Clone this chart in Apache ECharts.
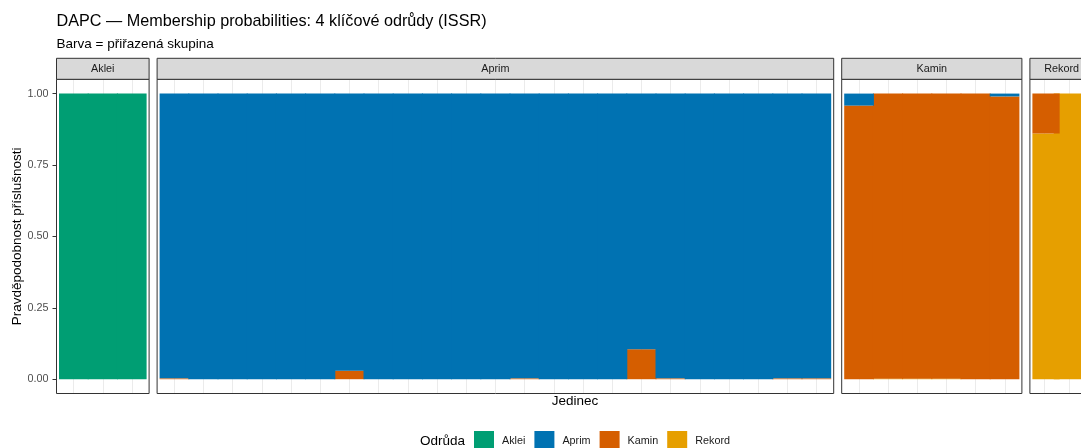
<!DOCTYPE html>
<html>
<head>
<meta charset="utf-8">
<script src="https://cdn.jsdelivr.net/npm/echarts@6/dist/echarts.min.js"></script>
<style>
  html, body { margin: 0; padding: 0; background: #ffffff; }
  #chart { width: 1081px; height: 448px; }
</style>
</head>
<body>
<div id="chart"></div>
<script>
// Assigned DAPC groups and their colours
const clusters = ['Aklei', 'Aprim', 'Kamin', 'Rekord'];
const clusterColors = ['#009E73', '#0072B2', '#D55E00', '#E69F00'];

// Facet panels = variety of each individual
const panels = ['Aklei', 'Aprim', 'Kamin', 'Rekord'];

// Membership probabilities: one array per group, one value per individual
const akleiAklei  = [1, 1, 1];
const akleiAprim  = [0, 0, 0];
const akleiKamin  = [0, 0, 0];
const akleiRekord = [0, 0, 0];

const aprimAklei  = [0, 0, 0, 0, 0, 0, 0, 0, 0, 0, 0, 0, 0, 0, 0, 0, 0, 0, 0, 0, 0, 0, 0];
const aprimAprim  = [0.997, 1, 1, 1, 1, 1, 0.97, 1, 1, 1, 1, 1, 0.997, 1, 1, 1, 0.895, 0.997, 1, 1, 1, 0.997, 0.997];
const aprimKamin  = [0.003, 0, 0, 0, 0, 0, 0.03, 0, 0, 0, 0, 0, 0.003, 0, 0, 0, 0.105, 0.003, 0, 0, 0, 0.003, 0.003];
const aprimRekord = [0, 0, 0, 0, 0, 0, 0, 0, 0, 0, 0, 0, 0, 0, 0, 0, 0, 0, 0, 0, 0, 0, 0];

const kaminAklei  = [0, 0, 0, 0, 0, 0];
const kaminAprim  = [0.042, 0, 0, 0, 0, 0.01];
const kaminKamin  = [0.958, 0.998, 0.998, 0.998, 1, 0.99];
const kaminRekord = [0, 0.002, 0.002, 0.002, 0, 0];

const rekordAklei  = [0, 0];
const rekordAprim  = [0, 0];
const rekordKamin  = [0.14, 0];
const rekordRekord = [0.86, 1];

const yTicks = [0, 0.25, 0.5, 0.75, 1];

// group -> values, per panel (order follows `clusters`)
const membership = {
  Aklei:  [akleiAklei, akleiAprim, akleiKamin, akleiRekord],
  Aprim:  [aprimAklei, aprimAprim, aprimKamin, aprimRekord],
  Kamin:  [kaminAklei, kaminAprim, kaminKamin, kaminRekord],
  Rekord: [rekordAklei, rekordAprim, rekordKamin, rekordRekord]
};

// Page layout (pixels)
const L = { left: 56.5, top: 79.3, bottom: 393.5, unit: 29.2, pad: 2.5, gap: 8, stripH: 21 };
const FONT = '"Liberation Sans", Arial, Helvetica, sans-serif';

const grids = [], xAxes = [], yAxes = [], series = [], graphics = [];
let x = L.left;
panels.forEach((p, i) => {
  const n = membership[p][0].length;
  const w = n * L.unit + 2 * L.pad;
  const ids = Array.from({ length: n }, (_, k) => p + '_' + (k + 1));

  grids.push({ left: x + L.pad, width: n * L.unit, top: L.top, height: L.bottom - L.top, containLabel: false });

  xAxes.push({
    type: 'category', gridIndex: i, data: ids,
    axisLine: { show: false }, axisTick: { show: false },
    axisLabel: { show: false, interval: 0 },
    splitLine: { show: true, interval: 0, alignWithLabel: true, lineStyle: { color: '#EBEBEB', width: 1 } }
  });

  const first = i === 0;
  yAxes.push({
    type: 'value', gridIndex: i, min: -0.05, max: 1.05, offset: first ? L.pad : 0,
    axisLine: { show: false },
    splitLine: { show: false },
    axisTick: { show: first, customValues: yTicks, length: 4, lineStyle: { color: '#333333', width: 1 } },
    axisLabel: {
      show: first, customValues: yTicks, margin: 8,
      formatter: v => v.toFixed(2), color: '#4D4D4D', fontSize: 10.8, fontFamily: FONT
    }
  });

  // stack bottom-to-top: Rekord, Kamin, Aprim, Aklei; empty shares are skipped.
  // Bars are 1px wider than their band so neighbouring bars join without seams.
  [3, 2, 1, 0].forEach(c => {
    series.push({
      type: 'bar', name: clusters[c], xAxisIndex: i, yAxisIndex: i, stack: 'panel' + i,
      data: membership[p][c].map(v => (v > 0 ? v : null)),
      barWidth: L.unit + 1, barGap: '0%',
      itemStyle: { color: clusterColors[c] },
      emphasis: { disabled: true }, silent: true
    });
  });

  // panel border
  graphics.push({
    type: 'rect', z: 100, silent: true,
    shape: { x: x, y: L.top, width: w, height: L.bottom - L.top },
    style: { fill: null, stroke: '#333333', lineWidth: 1 }
  });
  // strip
  graphics.push({
    type: 'rect', z: 100, silent: true,
    shape: { x: x, y: L.top - L.stripH, width: w, height: L.stripH },
    style: { fill: '#D9D9D9', stroke: '#333333', lineWidth: 1 }
  });
  graphics.push({
    type: 'text', z: 101, silent: true, x: x + w / 2, y: L.top - L.stripH / 2,
    style: { text: p, align: 'center', verticalAlign: 'middle', fill: '#1A1A1A', font: '10.8px ' + FONT }
  });

  x += w + L.gap;
});
const panelsRight = x - L.gap;

// titles and axis titles
graphics.push(
  { type: 'text', x: L.left, y: 21.5, silent: true,
    style: { text: 'DAPC — Membership probabilities: 4 klíčové odrůdy (ISSR)', align: 'left', verticalAlign: 'middle', fill: '#000000', font: '16.2px ' + FONT } },
  { type: 'text', x: L.left, y: 44.5, silent: true,
    style: { text: 'Barva = přiřazená skupina', align: 'left', verticalAlign: 'middle', fill: '#000000', font: '13.5px ' + FONT } },
  { type: 'text', x: 17, y: (L.top + L.bottom) / 2, rotation: Math.PI / 2, silent: true,
    style: { text: 'Pravděpodobnost příslušnosti', align: 'center', verticalAlign: 'middle', fill: '#000000', font: '13.5px ' + FONT } },
  { type: 'text', x: (L.left + panelsRight) / 2, y: 401, silent: true,
    style: { text: 'Jedinec', align: 'center', verticalAlign: 'middle', fill: '#000000', font: '13.5px ' + FONT } },
  { type: 'text', x: 420, y: 441, silent: true,
    style: { text: 'Odrůda', align: 'left', verticalAlign: 'middle', fill: '#000000', font: '13.5px ' + FONT } }
);

const chart = echarts.init(document.getElementById('chart'), null, { renderer: 'canvas' });
chart.setOption({
  animation: false,
  backgroundColor: '#ffffff',
  grid: grids,
  xAxis: xAxes,
  yAxis: yAxes,
  series: series,
  legend: {
    data: clusters, left: 474, top: 431, orient: 'horizontal', padding: 0,
    icon: 'rect', itemWidth: 20, itemHeight: 20, itemGap: 9, selectedMode: false,
    textStyle: { fontSize: 10.8, color: '#1A1A1A', fontFamily: FONT, padding: [0, 0, 0, 3] }
  },
  graphic: graphics
});
</script>
</body>
</html>
